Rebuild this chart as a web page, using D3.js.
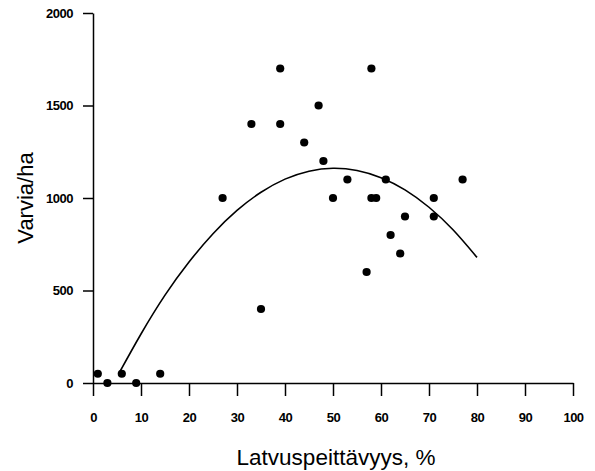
<!DOCTYPE html>
<html>
<head>
<meta charset="utf-8">
<script src="https://cdn.jsdelivr.net/npm/d3@7"></script>
<style>
  body { margin: 0; background: #fff; }
  .tick text { font-family: "Liberation Sans", Arial, sans-serif; font-weight: bold; font-size: 13px; letter-spacing: -0.5px; }
</style>
</head>
<body>
<div id="vis"></div>
<script>
// points
var coverX = [1, 3, 6, 9, 14, 27, 33, 35, 39, 39, 44, 47, 48, 50, 53, 57, 58, 58, 59, 61, 62, 64, 65, 71, 71, 77];
var seedlings = [50, 0, 50, 0, 50, 1000, 1400, 400, 1700, 1400, 1300, 1500, 1200, 1000, 1100, 600, 1700, 1000, 1000, 1100, 800, 700, 900, 1000, 900, 1100];

// fitted curve, read at a few places along its length
var curveX = [5.6, 10, 15, 20, 25, 30, 35, 40, 45, 50, 55, 60, 65, 70, 75, 80];
var curveY = [61, 265, 475, 654, 807, 933, 1031, 1102, 1145, 1161, 1149, 1110, 1044, 950, 828, 679];

var xTicks = [0, 10, 20, 30, 40, 50, 60, 70, 80, 90, 100];
var yTicks = [0, 500, 1000, 1500, 2000];

var w = 595;
var h = 471;

var chart = d3.select("#vis")
              .append("svg")
              .attr("width", w)
              .attr("height", h)
              .style("background-color", "#fff")

const xScale = d3.scaleLinear()
            .domain([0, 100])
            .range([93, 573])
const yScale = d3.scaleLinear()
            .domain([0, 2000])
            .range([383, 13])

const xAxis = chart.append("g")
                   .attr("transform", `translate(0,${yScale(0)})`)
                   .call(d3.axisBottom(xScale).tickValues(xTicks).tickFormat(d3.format("d"))
                           .tickSize(13).tickSizeOuter(0).tickPadding(17))
const yAxis = chart.append("g")
                   .attr("transform", `translate(${xScale(0)},0)`)
                   .call(d3.axisLeft(yScale).tickValues(yTicks).tickFormat(d3.format("d"))
                           .tickSize(10).tickSizeOuter(0).tickPadding(10))

chart.selectAll(".domain, .tick line")
     .attr("stroke", "#000")
     .attr("stroke-width", 1.5)
chart.selectAll(".tick text").attr("fill", "#000")

var pts = coverX.map((x, i) => ({x: x, y: seedlings[i]}))
var fit = curveX.map((x, i) => ({x: x, y: curveY[i]}))

chart.append("path")
     .datum(fit)
     .attr("d", d3.line().x(d => xScale(d.x)).y(d => yScale(d.y)).curve(d3.curveNatural))
     .attr("fill", "none")
     .attr("stroke", "#000")
     .attr("stroke-width", 1.6)

chart.selectAll("circle")
     .data(pts)
     .enter()
     .append("circle")
     .attr("cx", d => xScale(d.x))
     .attr("cy", d => yScale(d.y))
     .attr("r", 4.1)
     .attr("fill", "#000")

chart.append("text")
     .attr("x", 336)
     .attr("y", 465)
     .attr("text-anchor", "middle")
     .style("font-family", "Liberation Sans, Arial, sans-serif")
     .style("font-size", "22.5px")
     .text("Latvuspeittävyys, %")

chart.append("text")
     .attr("transform", "translate(33,198) rotate(-90)")
     .attr("text-anchor", "middle")
     .style("font-family", "Liberation Sans, Arial, sans-serif")
     .style("font-size", "22px")
     .text("Varvia/ha")
</script>
</body>
</html>
